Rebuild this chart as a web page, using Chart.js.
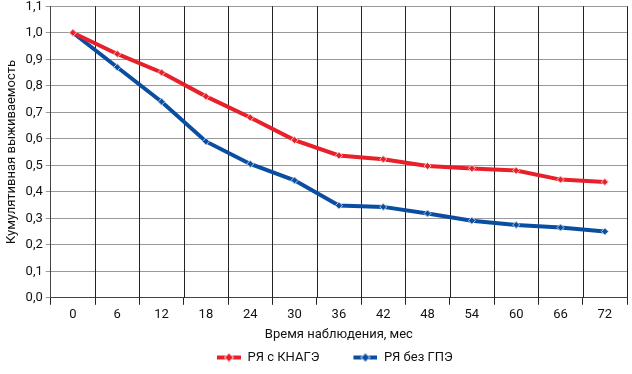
<!DOCTYPE html>
<html>
<head>
<meta charset="utf-8">
<script src="https://cdn.jsdelivr.net/npm/chart.js@4"></script>
<style>
  html, body { margin: 0; padding: 0; background: #fff; }
  #wrap { width: 632px; height: 374px; }
</style>
</head>
<body>
<div id="wrap"><canvas id="chart"></canvas></div>
<script>
// Данные
const months = ["0", "6", "12", "18", "24", "30", "36", "42", "48", "54", "60", "66", "72"];
const withKnage = [1.0, 0.92, 0.85, 0.76, 0.68, 0.595, 0.537, 0.523, 0.497, 0.488, 0.48, 0.446, 0.437];
const withoutGpe = [1.0, 0.87, 0.74, 0.59, 0.505, 0.443, 0.348, 0.343, 0.318, 0.291, 0.275, 0.265, 0.25];

const RED = "#e8202a";
const BLUE = "#0a4ea2";
const FONT = "Roboto";

// иконка легенды: отступ слева + линия с ромбом
function legendIcon(color) {
    const c = document.createElement("canvas");
    c.width = 50; c.height = 10;
    const ctx = c.getContext("2d");
    ctx.strokeStyle = color;
    ctx.lineWidth = 4;
    ctx.beginPath();
    ctx.moveTo(26, 5); ctx.lineTo(50, 5);
    ctx.stroke();
    ctx.fillStyle = color;
    ctx.strokeStyle = "#fff";
    ctx.lineWidth = 1;
    ctx.beginPath();
    ctx.moveTo(38, 0.5); ctx.lineTo(42.5, 5); ctx.lineTo(38, 9.5); ctx.lineTo(33.5, 5);
    ctx.closePath();
    ctx.fill();
    ctx.stroke();
    return c;
}

// вертикальные линии сетки между категориями
const categoryGrid = {
    id: "categoryGrid",
    beforeDatasetsDraw(chart) {
        const x = chart.scales.x;
        const area = chart.chartArea;
        const ctx = chart.ctx;
        const step = x.getPixelForValue(1) - x.getPixelForValue(0);
        ctx.save();
        ctx.strokeStyle = "#222";
        ctx.lineWidth = 1;
        for (let i = 1; i <= months.length; i++) {
            const px = Math.round(x.getPixelForValue(i) - step / 2) + 0.5;
            ctx.beginPath();
            ctx.moveTo(px, area.top);
            ctx.lineTo(px, area.bottom);
            ctx.stroke();
        }
        ctx.restore();
    }
};

// сдвиг легенды под центр области графика
const legendShift = {
    id: "legendShift",
    afterLayout(chart) {
        const a = chart.chartArea;
        const target = (a.left + a.right) / 2 - 17;
        const lg = chart.legend;
        const d = target - (lg.left + lg.right) / 2;
        lg.left += d;
        lg.right += d;
    }
};

new Chart(document.getElementById("chart"), {
    type: "line",
    data: {
        labels: months,
        datasets: [
            {
                label: "РЯ с КНАГЭ",
                data: withKnage,
                borderColor: RED,
                backgroundColor: RED,
                borderWidth: 4,
                pointStyle: "rectRot",
                pointRadius: 3.5,
                pointBorderColor: "#f7c0c2",
                pointBorderWidth: 1,
                pointBackgroundColor: RED,
                tension: 0
            },
            {
                label: "РЯ без ГПЭ",
                data: withoutGpe,
                borderColor: BLUE,
                backgroundColor: BLUE,
                borderWidth: 4,
                pointStyle: "rectRot",
                pointRadius: 3.5,
                pointBorderColor: "#b8c8e6",
                pointBorderWidth: 1,
                pointBackgroundColor: BLUE,
                tension: 0
            }
        ]
    },
    options: {
        responsive: true,
        maintainAspectRatio: false,
        animation: false,
        layout: { padding: { top: 0, right: 3, left: 4, bottom: 0 } },
        plugins: {
            tooltip: { enabled: false },
            legend: {
                position: "bottom",
                labels: {
                    font: { family: FONT, size: 13 },
                    color: "#111",
                    usePointStyle: true,
                    pointStyleWidth: 50,
                    padding: 8,
                    generateLabels(chart) {
                        return chart.data.datasets.map((ds, i) => ({
                            text: ds.label,
                            pointStyle: legendIcon(ds.borderColor),
                            fillStyle: ds.borderColor,
                            strokeStyle: ds.borderColor,
                            lineWidth: 0,
                            fontColor: "#111",
                            datasetIndex: i
                        }));
                    }
                }
            }
        },
        scales: {
            x: {
                offset: true,
                grid: {
                    drawOnChartArea: false,
                    color: "#222",
                    lineWidth: 1,
                    offset: true,
                    tickLength: 7
                },
                border: { color: "#444" },
                ticks: { font: { family: FONT, size: 13 }, color: "#111", padding: 2 },
                title: {
                    display: true,
                    text: "Время наблюдения, мес",
                    font: { family: FONT, size: 13 },
                    color: "#111",
                    padding: { top: 3, bottom: 0 }
                }
            },
            y: {
                min: 0,
                max: 1.1,
                grid: { color: "#999", lineWidth: 1, tickLength: 5 },
                border: { color: "#444" },
                ticks: {
                    stepSize: 0.1,
                    font: { family: FONT, size: 13, lineHeight: 0.5 },
                    color: "#111",
                    padding: 3,
                    callback: v => v.toFixed(1).replace(".", ",")
                },
                title: {
                    display: true,
                    text: "Кумулятивная выживаемость",
                    font: { family: FONT, size: 13 },
                    color: "#111",
                    padding: { top: 0, bottom: 3 }
                }
            }
        }
    },
    plugins: [categoryGrid, legendShift]
});
</script>
</body>
</html>
